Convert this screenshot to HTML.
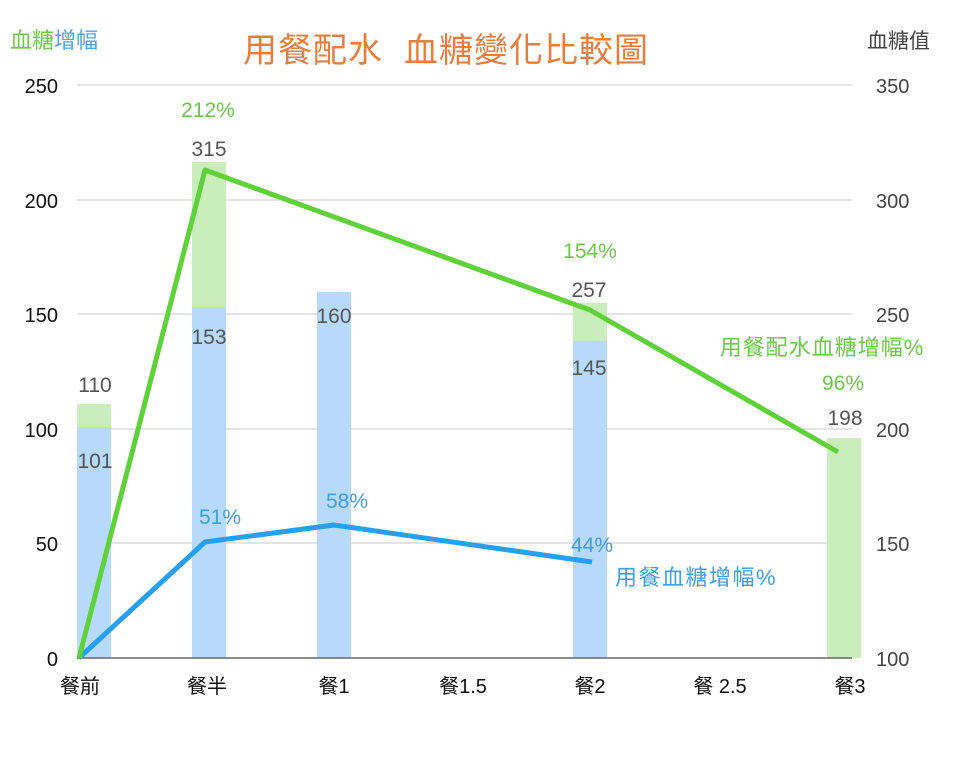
<!DOCTYPE html>
<html><head><meta charset="utf-8"><style>
body{margin:0;background:#fff;}
svg text{font-family:"Liberation Sans","Noto Sans CJK TC",sans-serif;}
</style></head><body>
<svg width="960" height="768" viewBox="0 0 960 768" xmlns="http://www.w3.org/2000/svg">
<rect width="960" height="768" fill="#fff"/>
<text x="10" y="48" font-size="22" fill="#6cc94a">血糖<tspan fill="#4aa3f0">增幅</tspan></text>
<text x="446" y="62" font-size="34" fill="#ea7d3c" text-anchor="middle" style="white-space:pre" letter-spacing="1">用餐配水  血糖變化比較圖</text>
<text x="930" y="48" font-size="21" fill="#444" text-anchor="end">血糖值</text>
<g stroke="#c8c8c8" stroke-width="1">
<line x1="77" y1="85" x2="852" y2="85"/><line x1="77" y1="200" x2="852" y2="200"/>
<line x1="77" y1="314" x2="852" y2="314"/><line x1="77" y1="429" x2="852" y2="429"/>
<line x1="77" y1="543" x2="852" y2="543"/>
</g>
<g font-size="20" fill="#111" text-anchor="end">
<text x="58" y="93">250</text><text x="58" y="208">200</text><text x="58" y="322">150</text>
<text x="58" y="437">100</text><text x="58" y="551">50</text><text x="58" y="666">0</text>
</g>
<g font-size="20" fill="#444">
<text x="876" y="93">350</text><text x="876" y="208">300</text><text x="876" y="322">250</text>
<text x="876" y="437">200</text><text x="876" y="551">150</text><text x="876" y="666">100</text>
</g>
<rect x="77" y="404" width="34" height="254" fill="#c9eebb"/>
<rect x="77" y="427" width="34" height="231" fill="#b8dafa"/>
<rect x="192" y="162" width="34" height="496" fill="#c9eebb"/>
<rect x="192" y="307" width="34" height="351" fill="#b8dafa"/>
<rect x="317" y="292" width="34" height="366" fill="#b8dafa"/>
<rect x="573" y="303" width="34" height="355" fill="#c9eebb"/>
<rect x="573" y="341" width="34" height="317" fill="#b8dafa"/>
<rect x="827" y="438" width="34" height="220" fill="#c9eebb"/>
<line x1="77" y1="658" x2="852" y2="658" stroke="#666" stroke-width="1.5"/>
<polyline points="79,658 205,542 334,525 592,562" fill="none" stroke="#26a0f0" stroke-width="5" stroke-linejoin="round"/>
<polyline points="79,658 205,170 590,310 838,452" fill="none" stroke="#5fd23a" stroke-width="5" stroke-linejoin="round"/>
<g font-size="21" fill="#555" text-anchor="middle">
<text x="95" y="392">110</text><text x="95" y="468">101</text>
<text x="209" y="156">315</text><text x="209" y="344">153</text>
<text x="334" y="323">160</text>
<text x="589" y="297">257</text><text x="589" y="375">145</text>
<text x="845" y="425">198</text>
</g>
<g font-size="21" fill="#6cc94a" text-anchor="middle">
<text x="208" y="117">212%</text><text x="590" y="258">154%</text><text x="843" y="390">96%</text>
<text x="822" y="355" font-size="22" letter-spacing="1">用餐配水血糖增幅%</text>
</g>
<g font-size="21" fill="#3e9ee8" text-anchor="middle">
<text x="220" y="524">51%</text><text x="347" y="508">58%</text><text x="592" y="552">44%</text>
<text x="696" y="585" font-size="22" letter-spacing="1.5">用餐血糖增幅%</text>
</g>
<g font-size="20" fill="#111" text-anchor="middle">
<text x="80" y="693">餐前</text><text x="207" y="693">餐半</text><text x="334" y="693">餐1</text>
<text x="463" y="693">餐1.5</text><text x="590" y="693">餐2</text><text x="720" y="693">餐 2.5</text>
<text x="850" y="693">餐3</text>
</g>
</svg>
</body></html>
